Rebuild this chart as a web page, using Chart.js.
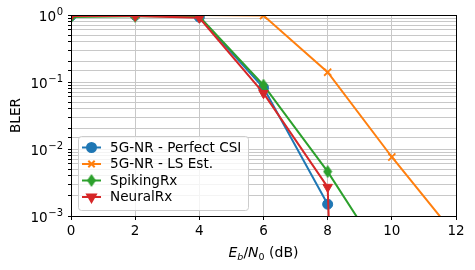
<!DOCTYPE html>
<html>
<head>
<meta charset="utf-8">
<script src="https://cdn.jsdelivr.net/npm/chart.js@4/dist/chart.umd.min.js"></script>
<style>
  html, body { margin: 0; padding: 0; background: #fff; }
  #wrap { width: 475px; height: 270px; }
</style>
</head>
<body>
<div id="wrap"><canvas id="bler"></canvas></div>
<script>
// Data
const snr = [0, 2, 4, 6, 8, 10, 12];
const perfectCsi = [0.97, 0.99, 0.93, 0.082, 0.0015];
const lsEst = [1.0, 1.0, 1.0, 0.98, 0.14, 0.0076, 0.0005];
const spikingRx = [0.93, 0.96, 0.95, 0.09, 0.0046, 0.00015];
const neuralRx = [0.97, 0.97, 0.91, 0.068, 0.0027, 1e-30]; // last point is ~0, drops off the axis

const seriesNames = ['5G-NR - Perfect CSI', '5G-NR - LS Est.', 'SpikingRx', 'NeuralRx'];
const seriesColors = ['#1f77b4', '#ff7f0e', '#2ca02c', '#d62728'];

const yMajorTicks = [1, 0.1, 0.01, 0.001];
const yMajorExp = ['0', '−1', '−2', '−3'];
const xTickStep = 2;

const FONT = 'DejaVu Sans';

// thin diamond marker like matplotlib 'd'
function thinDiamond(color) {
  const c = document.createElement('canvas');
  c.width = 10; c.height = 13;
  const g = c.getContext('2d');
  g.fillStyle = color;
  g.beginPath();
  g.moveTo(5, 0); g.lineTo(9.5, 6.5); g.lineTo(5, 13); g.lineTo(0.5, 6.5);
  g.closePath();
  g.fill();
  return c;
}

const toPoints = vals => vals.map((v, i) => ({ x: snr[i], y: v }));

const markers = [
  { pointStyle: 'circle', pointRadius: 5, rotation: 0 },
  { pointStyle: 'crossRot', pointRadius: 5, rotation: 0 },
  { pointStyle: thinDiamond(seriesColors[2]), pointRadius: 6, rotation: 0 },
  { pointStyle: 'triangle', pointRadius: 5.5, rotation: 180 }
];

const allSeries = [perfectCsi, lsEst, spikingRx, neuralRx];

const datasets = allSeries.map((vals, i) => ({
  label: seriesNames[i],
  data: toPoints(vals),
  borderColor: seriesColors[i],
  backgroundColor: seriesColors[i],
  pointBackgroundColor: seriesColors[i],
  pointBorderColor: seriesColors[i],
  pointBorderWidth: i === 1 ? 1.8 : 1,
  pointStyle: markers[i].pointStyle,
  pointRadius: markers[i].pointRadius,
  pointRotation: markers[i].rotation,
  borderWidth: 2,
  tension: 0,
  order: 4 - i
}));

// frame, y labels, legend and x title drawn by hand (matplotlib look)
const extras = {
  id: 'extras',
  afterDatasetsDraw(chart) {
    const { ctx, chartArea: a } = chart;
    ctx.save();
    ctx.strokeStyle = '#000';
    ctx.lineWidth = 1;
    ctx.strokeRect(Math.round(a.left) + 0.5, Math.round(a.top) + 0.5,
      Math.round(a.right - a.left), Math.round(a.bottom - a.top));
    ctx.restore();
  },
  afterDraw(chart) {
    const { ctx, chartArea: a } = chart;
    const yScale = chart.scales.y;
    ctx.save();

    // y tick labels 10^n
    ctx.fillStyle = '#000';
    ctx.textBaseline = 'alphabetic';
    ctx.textAlign = 'left';
    yMajorTicks.forEach((t, i) => {
      const py = yScale.getPixelForValue(t);
      ctx.font = '10px "' + FONT + '"';
      const we = ctx.measureText(yMajorExp[i]).width;
      ctx.font = '13.6px "' + FONT + '"';
      const wb = ctx.measureText('10').width;
      const right = 63;
      const x0 = right - we - wb - 0.5;
      ctx.fillText('10', x0, py + 5.5);
      ctx.font = '10px "' + FONT + '"';
      ctx.fillText(yMajorExp[i], x0 + wb + 0.5, py - 0.5);
    });

    // legend box
    const bx = 78.5, by = 136.5, bw = 170, bh = 74, r = 3;
    ctx.beginPath();
    ctx.moveTo(bx + r, by);
    ctx.arcTo(bx + bw, by, bx + bw, by + bh, r);
    ctx.arcTo(bx + bw, by + bh, bx, by + bh, r);
    ctx.arcTo(bx, by + bh, bx, by, r);
    ctx.arcTo(bx, by, bx + bw, by, r);
    ctx.closePath();
    ctx.fillStyle = 'rgba(255,255,255,0.8)';
    ctx.fill();
    ctx.strokeStyle = '#cccccc';
    ctx.lineWidth = 1;
    ctx.stroke();

    const rowsY = [147.5, 164, 180.5, 197];
    ctx.font = '13.6px "' + FONT + '"';
    ctx.textBaseline = 'middle';
    ctx.textAlign = 'left';
    seriesNames.forEach((name, i) => {
      const y = rowsY[i];
      ctx.strokeStyle = seriesColors[i];
      ctx.fillStyle = seriesColors[i];
      ctx.lineWidth = 2;
      ctx.beginPath();
      ctx.moveTo(82, y); ctx.lineTo(101, y);
      ctx.stroke();
      Chart.helpers.drawPoint(ctx, {
        pointStyle: markers[i].pointStyle,
        radius: markers[i].pointRadius - 0.5,
        rotation: markers[i].rotation,
        borderWidth: i === 1 ? 1.8 : 1
      }, 91.5, y);
      ctx.fillStyle = '#000';
      ctx.fillText(name, 110, y + 0.5);
    });

    // x axis title: E_b/N_0 (dB)
    const base = 257;
    const parts = [
      { t: 'E', f: 'italic 14px', dy: 0 },
      { t: 'b', f: 'italic 9.5px', dy: 3 },
      { t: '/', f: '14px', dy: 0 },
      { t: 'N', f: 'italic 14px', dy: 0 },
      { t: '0', f: '9.5px', dy: 3 },
      { t: ' (dB)', f: '14px', dy: 0 }
    ];
    ctx.textBaseline = 'alphabetic';
    ctx.fillStyle = '#000';
    let total = 0;
    parts.forEach(p => { ctx.font = p.f + ' "' + FONT + '"'; p.w = ctx.measureText(p.t).width; total += p.w; });
    let x = (a.left + a.right) / 2 - total / 2;
    parts.forEach(p => {
      ctx.font = p.f + ' "' + FONT + '"';
      ctx.fillText(p.t, x, base + p.dy);
      x += p.w;
    });
    ctx.restore();
  }
};

new Chart(document.getElementById('bler'), {
  type: 'line',
  data: { datasets },
  options: {
    responsive: true,
    maintainAspectRatio: false,
    animation: false,
    events: [],
    layout: { padding: { top: 15, right: 19, left: 0, bottom: 0 } },
    plugins: {
      legend: { display: false },
      tooltip: { enabled: false }
    },
    scales: {
      x: {
        type: 'linear',
        min: 0,
        max: 12,
        afterFit: s => { s.height = 54; },
        ticks: {
          stepSize: xTickStep,
          color: '#000',
          font: { family: FONT, size: 13.5 },
          padding: 3,
          maxRotation: 0
        },
        grid: { color: '#c8c8c8', tickColor: '#000', tickLength: 4, lineWidth: 1 },
        border: { display: true, color: '#000' }
      },
      y: {
        type: 'logarithmic',
        min: 0.001,
        max: 1,
        afterFit: s => { s.width = 71; },
        ticks: {
          autoSkip: false,
          // labels are drawn by the extras plugin with real superscripts
          callback: () => ''
        },
        grid: { color: '#c8c8c8', tickColor: '#000', tickLength: 3, lineWidth: 1 },
        border: { display: true, color: '#000' },
        title: {
          display: true,
          text: 'BLER',
          color: '#000',
          font: { family: FONT, size: 13.6 },
          padding: { top: 8, bottom: 0 }
        }
      }
    }
  },
  plugins: [extras]
});
</script>
</body>
</html>
